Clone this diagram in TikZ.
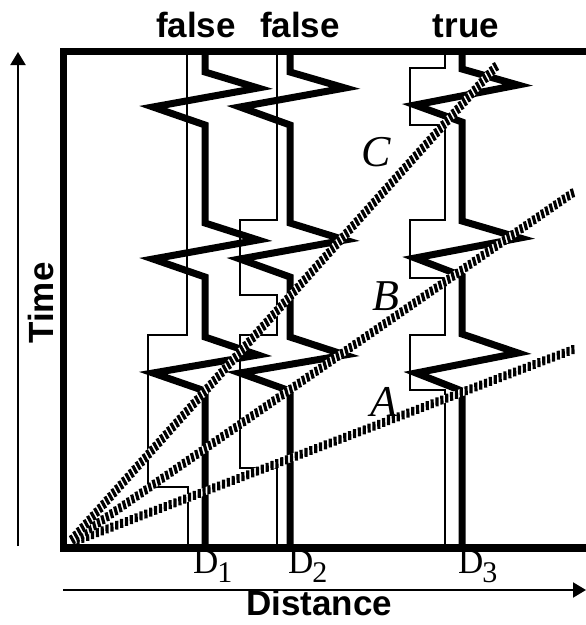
\documentclass[tikz,border=0pt]{standalone}
\usepackage{fontspec}
\setmainfont{Liberation Serif}
\setsansfont{Liberation Sans}
\usetikzlibrary{decorations.markings, arrows.meta}
\tikzset{
  frameline/.style={line width=7.5pt, line join=miter},
  proc/.style={line width=7pt, line join=miter, miter limit=20},
  thinln/.style={line width=1.9pt},
  hatch/.style={draw=white, line width=7.5pt,
    postaction={decorate, decoration={markings,
      mark=between positions 0.01 and 1 step 5.2pt with {\draw[black, line width=3.2pt] (-1.5pt,-4.2pt) -- (1.5pt,4.2pt);}}}},
  toplab/.style={font=\sffamily\bfseries\fontsize{35}{35}\selectfont, inner sep=0pt, anchor=base},
  axlab/.style={font=\sffamily\bfseries\fontsize{35}{35}\selectfont, inner sep=0pt},
  linelab/.style={font=\itshape\fontsize{44}{44}\selectfont, inner sep=0pt},
  dlab/.style={font=\fontsize{35}{35}\selectfont, inner sep=0pt, anchor=base west},
  axis/.style={line width=2pt, -{Triangle[length=13pt,width=15pt]}}
}
\newcommand{\dsub}[1]{D\kern-1pt\raisebox{-9pt}{\fontsize{30}{30}\selectfont #1}}
\begin{document}
\begin{tikzpicture}[x=1pt,y=-1pt]
\useasboundingbox (0,0) rectangle (586,625);
% thin lines
\draw[thinln] (187,51) -- (187,335) -- (148,335) -- (148,487) -- (188,487) -- (188,548);
\draw[thinln] (277,51) -- (277,220) -- (240,220) -- (240,295) -- (277,295) -- (277,335) -- (240,335) -- (240,468) -- (277,468) -- (277,548);
\draw[thinln] (445,51) -- (445,68) -- (410,68) -- (410,125) -- (445,125) -- (445,220) -- (410,220) -- (410,278) -- (445,278) -- (445,335) -- (410,335) -- (410,390) -- (445,390) -- (445,548);
% process lines
\draw[proc] (205,51) -- (205,72) -- (258,88) -- (153,107) -- (205,125) -- (205,223) -- (258,240) -- (153,259) -- (205,277) -- (205,337) -- (258,355) -- (153,373) -- (205,391) -- (205,548);
\draw[proc] (290,51) -- (290,72) -- (345,88) -- (240,107) -- (290,125) -- (290,223) -- (345,240) -- (240,259) -- (290,277) -- (290,337) -- (345,355) -- (240,373) -- (290,391) -- (290,548);
\draw[proc] (462,51) -- (462,69) -- (518,85) -- (415,105) -- (462,122) -- (462,221) -- (520,238) -- (415,258) -- (462,276) -- (462,334) -- (518,353) -- (416,373) -- (462,391) -- (462,548);
% hatched lines
\coordinate (O) at (68,544);
\coordinate (Aend) at (577,348);
\coordinate (Bend) at (574,192);
\coordinate (Cend) at (499,63);
\path[hatch] (O) -- (Aend);
\path[hatch] (O) -- (Bend);
\path[hatch] (O) -- (Cend);
% frame
\draw[frameline] (590,51.5) -- (63.5,51.5) -- (63.5,548) -- (590,548);
% axes
\coordinate (tb) at (18,546);
\coordinate (tt) at (18,52);
\draw[axis] (tb) -- (tt);
\coordinate (dl) at (63,590);
\coordinate (dr) at (586,590);
\draw[axis] (dl) -- (dr);
% labels
\node[toplab] (f1) at (196,37) {false};
\node[toplab] (f2) at (300,37) {false};
\node[toplab] (t3) at (466,37) {true};
\node[axlab, rotate=90] (time) at (41,303) {Time};
\node[axlab, anchor=base] (dist) at (319,615) {Distance};
\node[linelab] (labC) at (376,152) {C};
\node[linelab] (labB) at (386,296) {B};
\node[linelab] (labA) at (384,402) {A};
\node[dlab] (d1) at (193,573) {\dsub{1}};
\node[dlab] (d2) at (288,573) {\dsub{2}};
\node[dlab] (d3) at (458,573) {\dsub{3}};
\end{tikzpicture}
\end{document}
